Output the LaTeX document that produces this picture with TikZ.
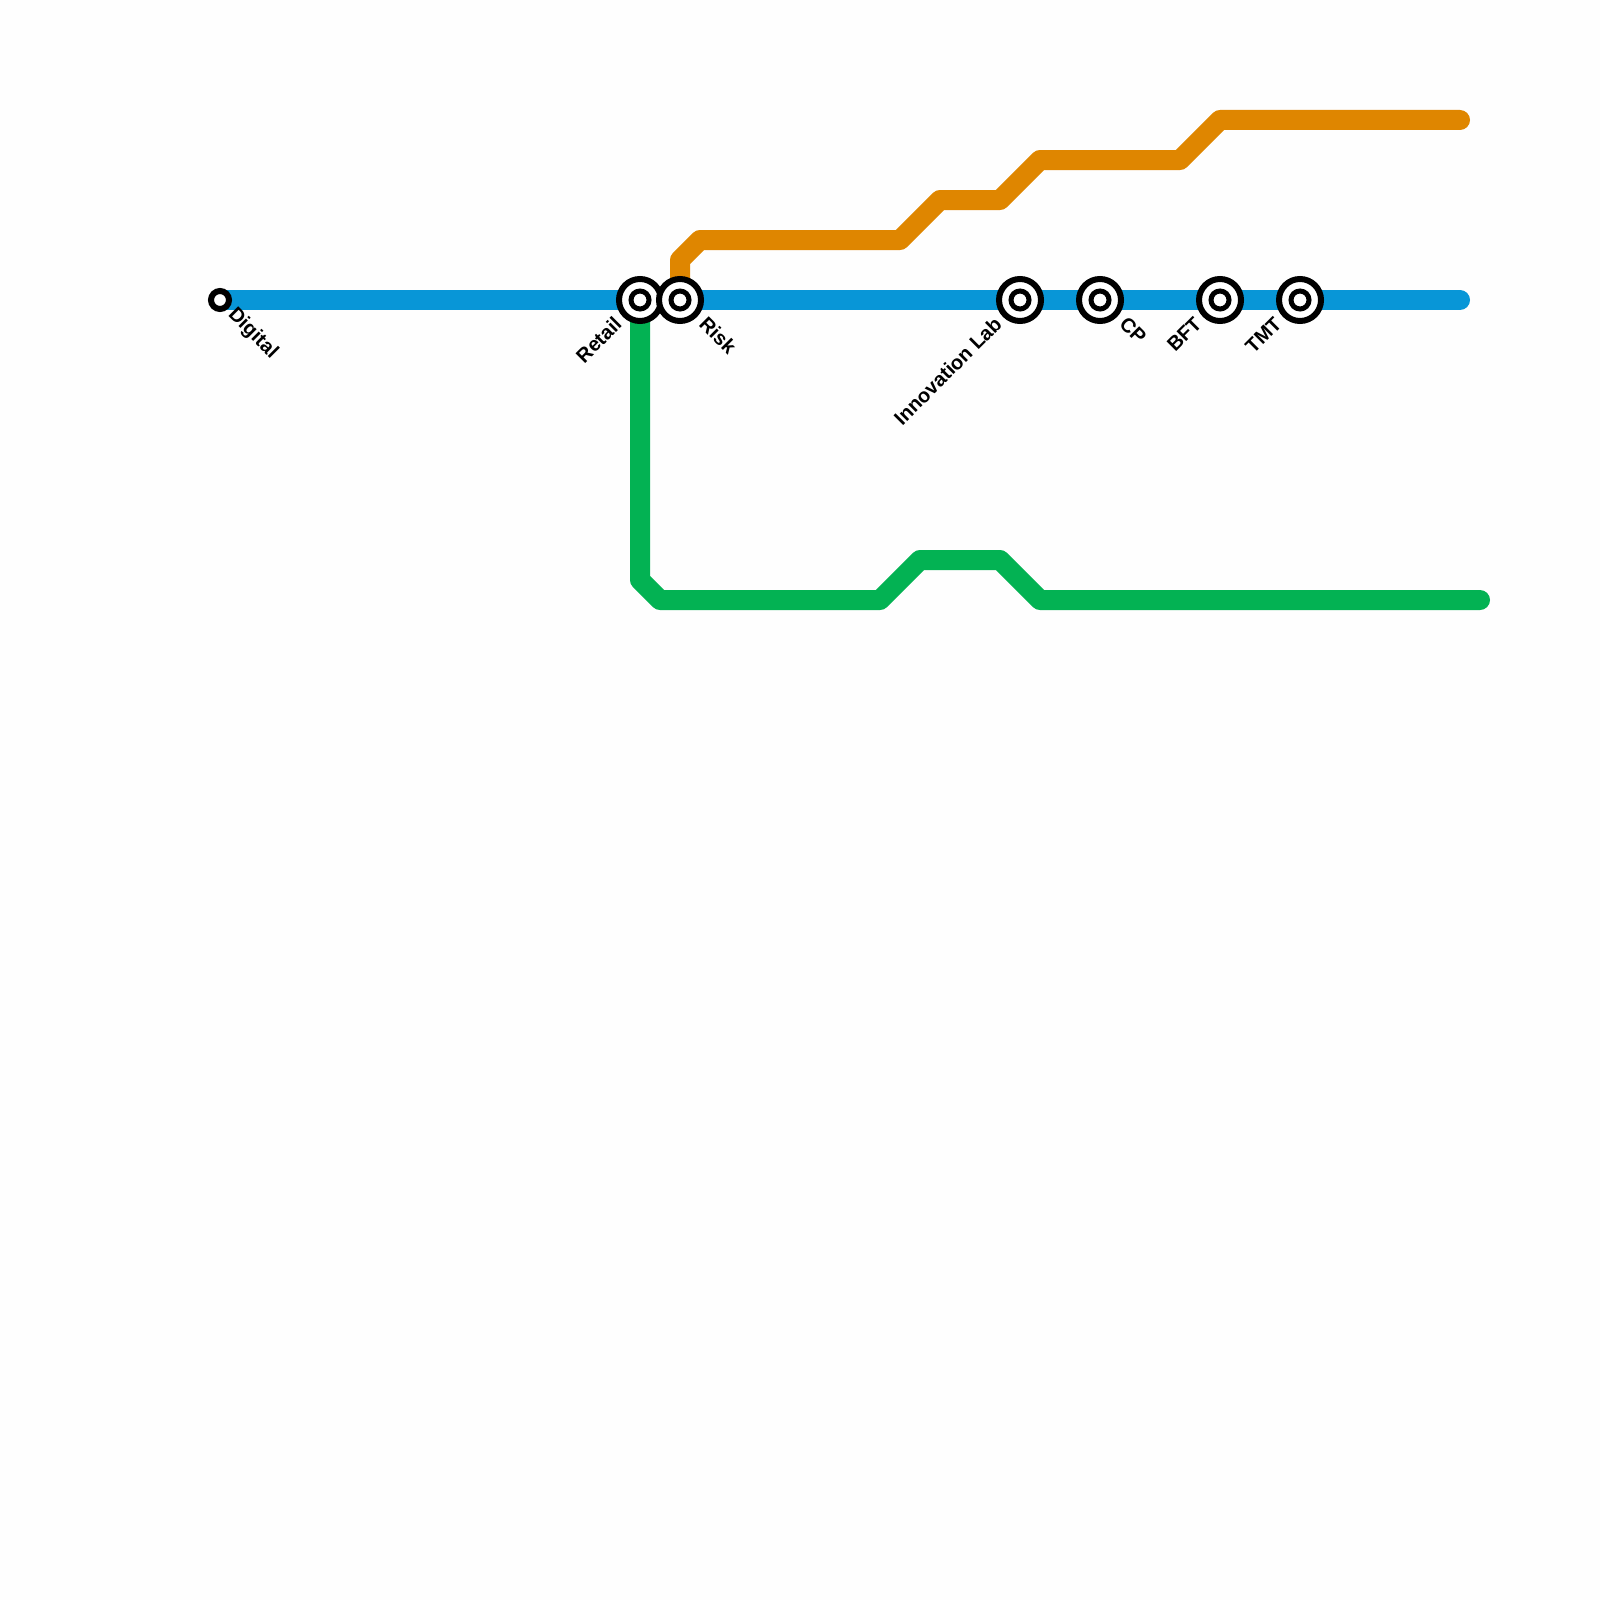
\documentclass[tikz,border=0pt]{standalone}
\usepackage{fontspec}
\setmainfont{Liberation Sans}
\definecolor{bluel}{HTML}{0896D7}
\definecolor{orangel}{HTML}{DF8600}
\definecolor{greenl}{HTML}{03B253}
\definecolor{paper}{HTML}{FEFEFE}
\tikzset{
  metro/.style={line width=20pt,line cap=round,line join=round},
  big/.style={circle,draw=black,line width=6pt,fill=white,minimum size=42pt,inner sep=0pt},
  small/.style={circle,draw=black,line width=6pt,fill=white,minimum size=18pt,inner sep=0pt},
  core/.style={circle,draw=black,line width=5pt,fill=white,minimum size=18pt,inner sep=0pt},
  lab/.style={font=\fontsize{20}{22}\selectfont\bfseries,inner sep=0pt,text=black},
  labdown/.style={lab,rotate=-45,anchor=west},
  labup/.style={lab,rotate=45,anchor=east}
}
\begin{document}
\begin{tikzpicture}[x=1pt,y=-1pt]
\path[use as bounding box,fill=paper] (0,0) rectangle (1600,1600);
% named points
\coordinate (bE) at (1460,300);
\coordinate (o1) at (680,260);
\coordinate (o2) at (700,240);
\coordinate (o3) at (900,240);
\coordinate (o4) at (940,200);
\coordinate (o5) at (1000,200);
\coordinate (o6) at (1040,160);
\coordinate (o7) at (1180,160);
\coordinate (o8) at (1220,120);
\coordinate (o9) at (1460,120);
\coordinate (g1) at (640,580);
\coordinate (g2) at (660,600);
\coordinate (g3) at (880,600);
\coordinate (g4) at (920,560);
\coordinate (g5) at (1000,560);
\coordinate (g6) at (1040,600);
\coordinate (g7) at (1480,600);
\coordinate (pDigital) at (220,300);
\coordinate (pRetail) at (640,300);
\coordinate (pRisk) at (680,300);
% lines
\draw[metro,color=bluel] (pDigital) -- (bE);
\draw[metro,color=greenl] (pRetail) -- (g1) -- (g2) -- (g3) -- (g4) -- (g5) -- (g6) -- (g7);
\draw[metro,color=orangel] (pRisk) -- (o1) -- (o2) -- (o3) -- (o4) -- (o5) -- (o6) -- (o7) -- (o8) -- (o9);
% stations
\node[small] (digital) at (pDigital) {};
\node[big] (retail) at (pRetail) {};
\node[core] (retailc) at (pRetail) {};
\node[big] (risk) at (pRisk) {};
\node[core] (riskc) at (pRisk) {};
\node[big] (innov) at (1020,300) {};
\node[core] (innovc) at (1020,300) {};
\node[big] (cp) at (1100,300) {};
\node[core] (cpc) at (1100,300) {};
\node[big] (bft) at (1220,300) {};
\node[core] (bftc) at (1220,300) {};
\node[big] (tmt) at (1300,300) {};
\node[core] (tmtc) at (1300,300) {};
% labels
\node[labdown] (ldigital) at (231,312) {Digital};
\node[labup] (lretail) at (618,320.5) {Retail};
\node[labdown] (lrisk) at (703,320) {Risk};
\node[labup] (linnov) at (998,320.5) {Innovation Lab};
\node[labdown] (lcp) at (1123,320) {CP};
\node[labup] (lbft) at (1198,320.5) {BFT};
\node[labup] (ltmt) at (1278,320.5) {TMT};
\end{tikzpicture}
\end{document}
